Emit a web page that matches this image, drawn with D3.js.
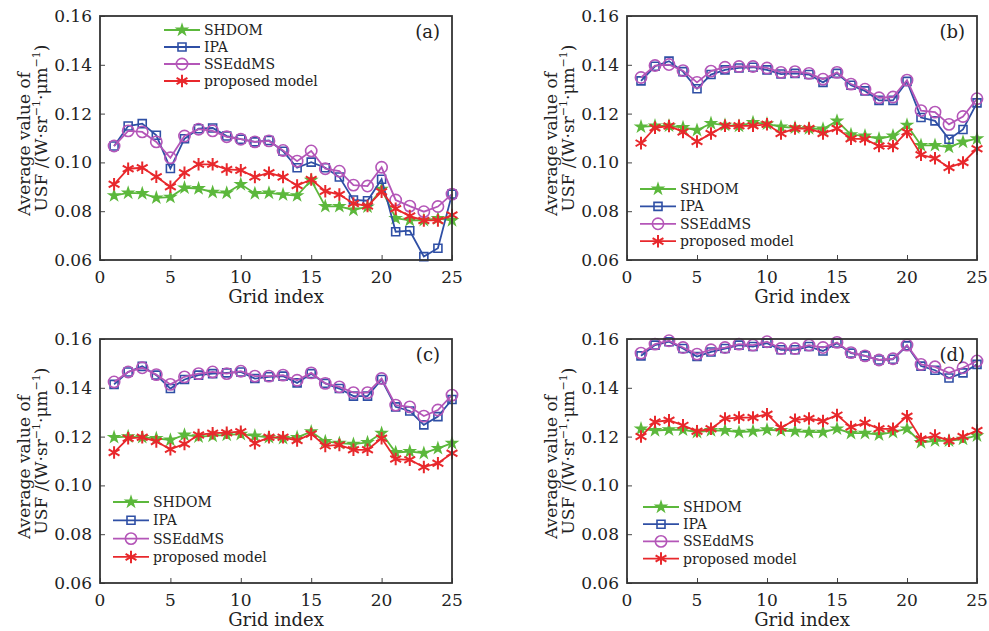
<!DOCTYPE html>
<html>
<head>
<meta charset="utf-8">
<script src="https://cdn.jsdelivr.net/npm/d3@7"></script>
<style>
  body { margin: 0; background: #fff; }
  text { font-family: "DejaVu Serif", serif; fill: #222; }
</style>
</head>
<body>
<div id="chart"></div>
<script>
// grid index (x values) and y ticks
const gridIndex = [1, 2, 3, 4, 5, 6, 7, 8, 9, 10, 11, 12, 13, 14, 15, 16, 17, 18, 19, 20, 21, 22, 23, 24, 25];
const xTicks = [0, 5, 10, 15, 20, 25];
const yTicks = [0.06, 0.08, 0.10, 0.12, 0.14, 0.16];
const seriesNames = ["SHDOM", "IPA", "SSEddMS", "proposed model"];

// panel (a)
const shdomA = [0.0864, 0.0875, 0.0873, 0.0855, 0.0858, 0.0896, 0.0893, 0.0878, 0.0875, 0.0910, 0.0873, 0.0875, 0.0868, 0.0864, 0.0927, 0.0820, 0.0820, 0.0805, 0.0818, 0.0890, 0.0771, 0.0763, 0.0763, 0.0770, 0.0762];
const ipaA = [0.1067, 0.1149, 0.1159, 0.1111, 0.0975, 0.1097, 0.1138, 0.1141, 0.1108, 0.1095, 0.1084, 0.1090, 0.1046, 0.0978, 0.1001, 0.0978, 0.0940, 0.0846, 0.0843, 0.0931, 0.0716, 0.0720, 0.0614, 0.0648, 0.0870];
const sseA = [0.1067, 0.1129, 0.1125, 0.1084, 0.1019, 0.1108, 0.1136, 0.1129, 0.1105, 0.1095, 0.1084, 0.1088, 0.1049, 0.1005, 0.1047, 0.0974, 0.0964, 0.0907, 0.0903, 0.0980, 0.0846, 0.0821, 0.0798, 0.0819, 0.0870];
const propA = [0.0910, 0.0974, 0.0978, 0.0941, 0.0900, 0.0958, 0.0992, 0.0992, 0.0971, 0.0968, 0.0940, 0.0958, 0.0940, 0.0905, 0.0930, 0.0882, 0.0868, 0.0832, 0.0821, 0.0880, 0.0810, 0.0780, 0.0762, 0.0762, 0.0784];

// panel (b)
const shdomB = [0.1146, 0.1150, 0.1150, 0.1143, 0.1132, 0.1160, 0.1153, 0.1149, 0.1164, 0.1158, 0.1146, 0.1142, 0.1139, 0.1137, 0.1170, 0.1114, 0.1109, 0.1097, 0.1109, 0.1153, 0.1070, 0.1070, 0.1063, 0.1084, 0.1097];
const ipaB = [0.1334, 0.1394, 0.1415, 0.1372, 0.1302, 0.1360, 0.1379, 0.1387, 0.1390, 0.1379, 0.1362, 0.1365, 0.1360, 0.1328, 0.1365, 0.1316, 0.1293, 0.1254, 0.1254, 0.1332, 0.1184, 0.1170, 0.1095, 0.1135, 0.1244];
const sseB = [0.1348, 0.1397, 0.1401, 0.1376, 0.1328, 0.1374, 0.1390, 0.1393, 0.1393, 0.1387, 0.1369, 0.1372, 0.1365, 0.1341, 0.1369, 0.1321, 0.1300, 0.1265, 0.1268, 0.1337, 0.1212, 0.1206, 0.1156, 0.1188, 0.1261];
const propB = [0.1079, 0.1142, 0.1149, 0.1125, 0.1086, 0.1118, 0.1150, 0.1150, 0.1150, 0.1156, 0.1118, 0.1139, 0.1139, 0.1118, 0.1139, 0.1097, 0.1095, 0.1067, 0.1067, 0.1125, 0.1031, 0.1017, 0.0979, 0.1000, 0.1056];

// panel (c)
const shdomC = [0.1197, 0.1200, 0.1197, 0.1193, 0.1186, 0.1207, 0.1200, 0.1203, 0.1207, 0.1210, 0.1203, 0.1197, 0.1193, 0.1197, 0.1220, 0.1180, 0.1173, 0.1169, 0.1176, 0.1214, 0.1135, 0.1139, 0.1132, 0.1152, 0.1173];
const ipaC = [0.1414, 0.1465, 0.1488, 0.1452, 0.1397, 0.1434, 0.1452, 0.1458, 0.1461, 0.1465, 0.1438, 0.1445, 0.1448, 0.1420, 0.1458, 0.1418, 0.1397, 0.1366, 0.1366, 0.1434, 0.1322, 0.1305, 0.1248, 0.1282, 0.1352];
const sseC = [0.1424, 0.1465, 0.1482, 0.1454, 0.1414, 0.1445, 0.1458, 0.1465, 0.1458, 0.1468, 0.1448, 0.1448, 0.1452, 0.1431, 0.1461, 0.1418, 0.1404, 0.1380, 0.1380, 0.1438, 0.1329, 0.1322, 0.1284, 0.1309, 0.1370];
const propC = [0.1135, 0.1193, 0.1197, 0.1180, 0.1148, 0.1170, 0.1207, 0.1214, 0.1216, 0.1220, 0.1173, 0.1197, 0.1197, 0.1184, 0.1211, 0.1162, 0.1166, 0.1146, 0.1146, 0.1193, 0.1108, 0.1105, 0.1075, 0.1091, 0.1132];

// panel (d)
const shdomD = [0.1232, 0.1225, 0.1228, 0.1228, 0.1218, 0.1225, 0.1225, 0.1218, 0.1222, 0.1228, 0.1225, 0.1222, 0.1218, 0.1218, 0.1232, 0.1214, 0.1214, 0.1208, 0.1218, 0.1232, 0.1176, 0.1183, 0.1183, 0.1190, 0.1204];
const ipaD = [0.1531, 0.1575, 0.1589, 0.1561, 0.1528, 0.1547, 0.1561, 0.1575, 0.1569, 0.1583, 0.1556, 0.1556, 0.1569, 0.1551, 0.1583, 0.1542, 0.1531, 0.1514, 0.1517, 0.1572, 0.1489, 0.1472, 0.1440, 0.1461, 0.1496];
const sseD = [0.1542, 0.1579, 0.1593, 0.1565, 0.1538, 0.1556, 0.1565, 0.1579, 0.1575, 0.1589, 0.1561, 0.1561, 0.1575, 0.1565, 0.1586, 0.1544, 0.1531, 0.1514, 0.1519, 0.1575, 0.1496, 0.1486, 0.1461, 0.1482, 0.1510];
const propD = [0.1200, 0.1260, 0.1267, 0.1246, 0.1222, 0.1232, 0.1274, 0.1278, 0.1278, 0.1292, 0.1236, 0.1269, 0.1274, 0.1264, 0.1288, 0.1239, 0.1256, 0.1232, 0.1232, 0.1283, 0.1190, 0.1204, 0.1183, 0.1200, 0.1225];

const colors = ["#5cb83c", "#2f4fa5", "#b456b8", "#e8282c"];

const width = 989, height = 631;

const svg = d3
  .select("#chart")
  .append("svg")
  .attr("width", width)
  .attr("height", height);

// plot boxes and legend offsets for each panel
const panels = [
  { label: "(a)", left: 100, right: 452, top: 16, bottom: 260, series: [shdomA, ipaA, sseA, propA], leg: { x: 64, y: 14, step: 17 } },
  { label: "(b)", left: 627, right: 977, top: 16, bottom: 260, series: [shdomB, ipaB, sseB, propB], leg: { x: 13, y: 173, step: 17.4 } },
  { label: "(c)", left: 100, right: 452, top: 339, bottom: 583, series: [shdomC, ipaC, sseC, propC], leg: { x: 13, y: 163, step: 18.3 } },
  { label: "(d)", left: 627, right: 977, top: 339, bottom: 583, series: [shdomD, ipaD, sseD, propD], leg: { x: 16, y: 168, step: 17.2 } },
];

// marker for each series
const markers = [
  { type: d3.symbolStar, size: 30, fill: true },
  { type: d3.symbolSquare, size: 64, fill: false },
  { type: d3.symbolCircle, size: 100, fill: false },
  { type: d3.symbolAsterisk, size: 110, fill: false },
];

function drawMarker(g, i, x, y) {
  const m = markers[i];
  g.append("path")
    .attr("d", d3.symbol().type(m.type).size(m.size)())
    .attr("transform", `translate(${x},${y})`)
    .attr("fill", m.fill ? colors[i] : "none")
    .attr("stroke", colors[i])
    .attr("stroke-width", i === 3 ? 2 : 1.6);
}

panels.forEach((p) => {
  const x = d3.scaleLinear().domain([0, 25]).range([p.left, p.right]);
  const y = d3.scaleLinear().domain([0.06, 0.16]).range([p.bottom, p.top]);

  const g = svg.append("g");

  // series lines + markers
  p.series.forEach((vals, i) => {
    const pts = gridIndex.map((gi, k) => [gi, vals[k]]);
    g.append("path")
      .datum(pts)
      .attr("fill", "none")
      .attr("stroke", colors[i])
      .attr("stroke-width", 1.8)
      .attr("d", d3.line().x((d) => x(d[0])).y((d) => y(d[1])));
    pts.forEach((d) => drawMarker(g, i, x(d[0]), y(d[1])));
  });

  // inward ticks
  g.append("g")
    .attr("transform", `translate(0,${p.bottom})`)
    .call(d3.axisTop(x).tickValues(xTicks).tickSize(5).tickFormat(""))
    .call((a) => a.select(".domain").remove())
    .selectAll("line").attr("stroke", "#444");
  g.append("g")
    .attr("transform", `translate(${p.left},0)`)
    .call(d3.axisRight(y).tickValues(yTicks).tickSize(5).tickFormat(""))
    .call((a) => a.select(".domain").remove())
    .selectAll("line").attr("stroke", "#444");

  // frame
  g.append("rect")
    .attr("x", p.left)
    .attr("y", p.top)
    .attr("width", p.right - p.left)
    .attr("height", p.bottom - p.top)
    .attr("fill", "none")
    .attr("stroke", "#333")
    .attr("stroke-width", 1.8);

  // tick labels
  g.selectAll(".xl")
    .data(xTicks)
    .join("text")
    .attr("x", (d) => x(d))
    .attr("y", p.bottom + 23)
    .attr("text-anchor", "middle")
    .attr("font-size", 17)
    .text((d) => d);
  g.selectAll(".yl")
    .data(yTicks)
    .join("text")
    .attr("x", p.left - 8)
    .attr("y", (d) => y(d) + 6)
    .attr("text-anchor", "end")
    .attr("font-size", 17)
    .text((d) => d.toFixed(2));

  // axis titles
  g.append("text")
    .attr("x", (p.left + p.right) / 2)
    .attr("y", p.bottom + 43)
    .attr("text-anchor", "middle")
    .attr("font-size", 18)
    .text("Grid index");

  const cy = (p.top + p.bottom) / 2;
  g.append("text")
    .attr("transform", `translate(${p.left - 70},${cy + 6}) rotate(-90)`)
    .attr("text-anchor", "middle")
    .attr("font-size", 17)
    .text("Average value of");
  const t2 = g.append("text")
    .attr("transform", `translate(${p.left - 53},${cy - 10}) rotate(-90)`)
    .attr("text-anchor", "middle")
    .attr("font-size", 17);
  t2.append("tspan").text("USF /(W\u00b7sr");
  t2.append("tspan").attr("dy", -7).attr("font-size", 11).text("\u22121");
  t2.append("tspan").attr("dy", 7).text("\u00b7\u03bcm");
  t2.append("tspan").attr("dy", -7).attr("font-size", 11).text("\u22121");
  t2.append("tspan").attr("dy", 7).text(")");

  // panel label
  g.append("text")
    .attr("x", p.right - 12)
    .attr("y", p.top + 22)
    .attr("text-anchor", "end")
    .attr("font-size", 18)
    .text(p.label);

  // legend
  seriesNames.forEach((name, i) => {
    const ly = p.top + p.leg.y + i * p.leg.step;
    const lx = p.left + p.leg.x;
    g.append("line")
      .attr("x1", lx)
      .attr("x2", lx + 36)
      .attr("y1", ly)
      .attr("y2", ly)
      .attr("stroke", colors[i])
      .attr("stroke-width", 1.8);
    drawMarker(g, i, lx + 18, ly);
    g.append("text")
      .attr("x", lx + 40)
      .attr("y", ly + 5)
      .attr("font-size", 14)
      .text(name);
  });
});
</script>
</body>
</html>
